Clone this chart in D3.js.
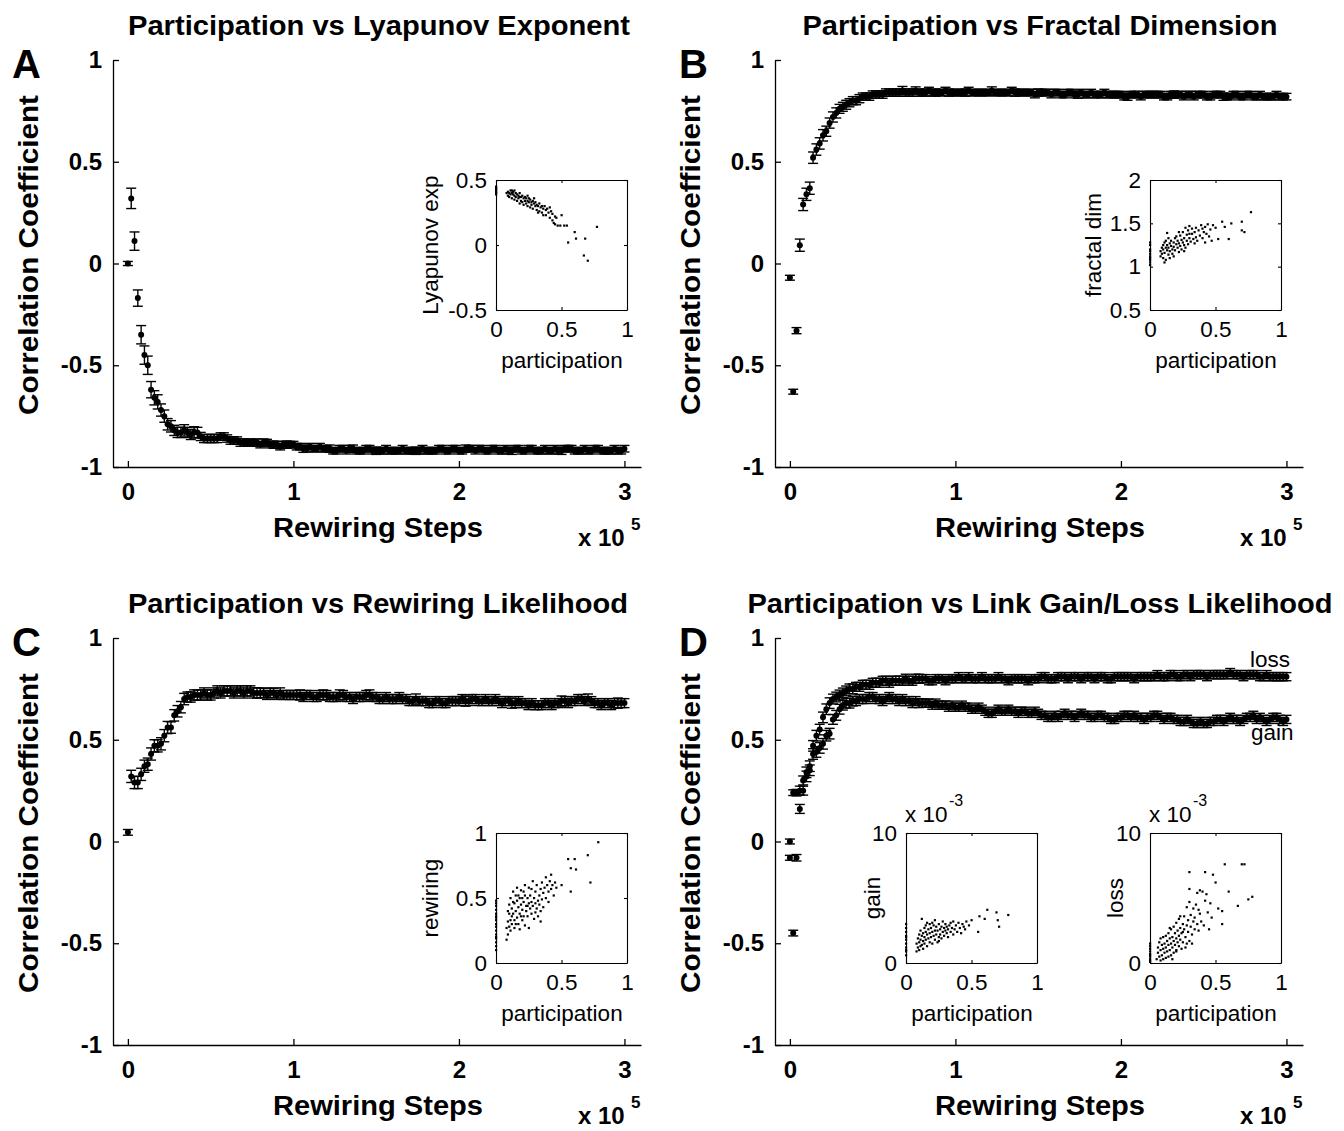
<!DOCTYPE html>
<html><head><meta charset="utf-8">
<script src="https://cdn.jsdelivr.net/npm/d3@7"></script>
<style>
body{margin:0;background:#fff}
text{font-family:"Liberation Sans",Arial,Helvetica,sans-serif;fill:#000}
</style>
</head><body>
<svg id="c" width="1344" height="1131"></svg>
<script>
// ---------- DATA ----------
// rewiring steps (in thousands)
const steps = [0,2,4,6,8,10,12,14,16,18,20,22,24,26,28,30,32,34,36,38,
40,42,44,46,48,50,52,54,56,58,60,62,64,66,68,70,72,74,76,78,
80,82,84,86,88,90,92,94,96,98,100,102,104,106,108,110,112,114,116,118,
120,122,124,126,128,130,132,134,136,138,140,142,144,146,148,150,152,154,156,158,
160,162,164,166,168,170,172,174,176,178,180,182,184,186,188,190,192,194,196,198,
200,202,204,206,208,210,212,214,216,218,220,222,224,226,228,230,232,234,236,238,
240,242,244,246,248,250,252,254,256,258,260,262,264,266,268,270,272,274,276,278,
280,282,284,286,288,290,292,294,296,298,300];

const mainYTicks = [-1,-0.5,0,0.5,1];
const mainXTicks = [0,1,2,3];

// A: Participation vs Lyapunov Exponent
const lyapCorr = [0.00,0.32,0.11,-0.17,-0.35,-0.45,-0.50,-0.62,-0.66,-0.68,
-0.72,-0.75,-0.79,-0.80,-0.82,-0.83,-0.83,-0.82,-0.83,-0.84,
-0.83,-0.83,-0.85,-0.86,-0.86,-0.86,-0.86,-0.86,-0.85,-0.85,
-0.86,-0.87,-0.87,-0.87,-0.88,-0.88,-0.88,-0.88,-0.88,-0.88,
-0.89,-0.88,-0.88,-0.89,-0.89,-0.89,-0.90,-0.89,-0.89,-0.89,
-0.89,-0.90,-0.90,-0.91,-0.91,-0.90,-0.91,-0.91,-0.90,-0.91,
-0.91,-0.91,-0.92,-0.92,-0.91,-0.91,-0.92,-0.91,-0.91,-0.92,
-0.92,-0.92,-0.91,-0.91,-0.92,-0.92,-0.92,-0.92,-0.91,-0.92,
-0.92,-0.92,-0.92,-0.91,-0.92,-0.92,-0.92,-0.92,-0.92,-0.91,
-0.92,-0.92,-0.92,-0.92,-0.91,-0.91,-0.92,-0.92,-0.91,-0.91,
-0.92,-0.92,-0.91,-0.91,-0.91,-0.92,-0.91,-0.91,-0.92,-0.92,
-0.91,-0.91,-0.92,-0.92,-0.91,-0.92,-0.92,-0.91,-0.91,-0.92,
-0.92,-0.91,-0.91,-0.92,-0.92,-0.92,-0.91,-0.92,-0.92,-0.91,
-0.92,-0.92,-0.91,-0.91,-0.91,-0.92,-0.92,-0.92,-0.91,-0.92,
-0.92,-0.91,-0.91,-0.92,-0.92,-0.92,-0.92,-0.91,-0.92,-0.92,-0.91];
const lyapErr = [.01,.05,.045,.04,.045,.045,.045,.04,.035,.035,
.03,.03,.028,.028,.025,.025,.025,.028,.025,.025,
.028,.025,.02,.02,.02,.02,.02,.02,.018,.018,
.018,.018,.018,.018,.018,.018,.016,.018,.016,.018,
.016,.018,.016,.016,.018,.016,.016,.016,.018,.016,
.016,.016,.016,.018,.016,.016,.016,.016,.016,.016,
.016,.018,.016,.016,.016,.016,.016,.016,.018,.016,
.016,.016,.016,.016,.016,.018,.016,.016,.016,.016,
.016,.016,.016,.016,.016,.016,.016,.018,.016,.016,
.016,.016,.016,.016,.016,.016,.016,.016,.016,.016,
.016,.016,.018,.016,.016,.016,.016,.016,.016,.016,
.016,.016,.016,.016,.016,.016,.018,.016,.016,.016,
.016,.016,.016,.016,.016,.016,.016,.016,.016,.016,
.016,.018,.016,.016,.016,.016,.016,.016,.016,.016,
.016,.016,.016,.016,.016,.016,.016,.016,.016,.016,.016];

// B: Participation vs Fractal Dimension
const fracCorr = [-0.07,-0.63,-0.33,0.09,0.29,0.34,0.37,0.52,0.56,0.59,
0.63,0.65,0.69,0.72,0.74,0.76,0.77,0.78,0.79,0.80,
0.80,0.81,0.82,0.82,0.82,0.83,0.83,0.83,0.83,0.84,
0.84,0.84,0.84,0.84,0.85,0.84,0.84,0.84,0.85,0.84,
0.84,0.84,0.85,0.84,0.84,0.84,0.84,0.85,0.84,0.84,
0.84,0.84,0.84,0.84,0.85,0.84,0.84,0.84,0.84,0.84,
0.84,0.85,0.84,0.84,0.84,0.84,0.84,0.85,0.84,0.84,
0.84,0.84,0.84,0.84,0.83,0.84,0.84,0.84,0.84,0.83,
0.84,0.84,0.83,0.83,0.84,0.84,0.83,0.83,0.84,0.83,
0.83,0.84,0.83,0.83,0.83,0.84,0.83,0.83,0.83,0.83,
0.83,0.82,0.82,0.83,0.83,0.83,0.82,0.83,0.83,0.83,
0.83,0.83,0.83,0.82,0.82,0.83,0.83,0.83,0.83,0.82,
0.83,0.83,0.82,0.83,0.83,0.83,0.82,0.82,0.83,0.83,
0.83,0.82,0.82,0.82,0.83,0.83,0.82,0.82,0.83,0.83,
0.82,0.82,0.83,0.82,0.82,0.82,0.82,0.83,0.82,0.82,0.82];
const fracErr = [.012,.012,.015,.03,.03,.03,.03,.028,.028,.028,
.028,.025,.025,.025,.025,.022,.022,.022,.02,.02,
.02,.02,.018,.018,.018,.018,.018,.018,.018,.018,
.018,.018,.018,.018,.02,.018,.018,.018,.018,.018,
.016,.018,.016,.016,.018,.016,.016,.016,.018,.016,
.016,.016,.016,.018,.016,.016,.016,.016,.016,.016,
.016,.018,.016,.016,.016,.016,.016,.016,.018,.016,
.016,.016,.016,.016,.016,.018,.016,.016,.016,.016,
.016,.016,.016,.016,.016,.016,.016,.018,.016,.016,
.016,.016,.016,.016,.016,.016,.016,.016,.016,.016,
.016,.016,.018,.016,.016,.016,.016,.016,.016,.016,
.016,.016,.016,.016,.016,.016,.018,.016,.016,.016,
.016,.016,.016,.016,.016,.016,.016,.016,.016,.016,
.016,.018,.016,.016,.016,.016,.016,.016,.016,.016,
.016,.016,.016,.016,.016,.016,.016,.016,.016,.016,.016];

// C: Participation vs Rewiring Likelihood
const rewCorr = [0.045,0.32,0.29,0.29,0.33,0.37,0.38,0.43,0.47,0.47,
0.48,0.52,0.56,0.56,0.62,0.64,0.66,0.70,0.71,0.71,
0.72,0.72,0.72,0.73,0.72,0.72,0.73,0.74,0.73,0.74,
0.74,0.74,0.73,0.74,0.74,0.73,0.74,0.74,0.73,0.73,
0.73,0.73,0.72,0.73,0.73,0.72,0.73,0.72,0.72,0.72,
0.72,0.72,0.72,0.71,0.72,0.72,0.71,0.71,0.72,0.72,
0.72,0.71,0.71,0.71,0.72,0.72,0.71,0.71,0.70,0.71,
0.71,0.71,0.72,0.72,0.71,0.71,0.70,0.70,0.71,0.70,
0.70,0.70,0.71,0.70,0.70,0.69,0.69,0.70,0.69,0.69,
0.69,0.68,0.68,0.69,0.69,0.68,0.68,0.69,0.69,0.69,
0.69,0.70,0.69,0.69,0.70,0.70,0.69,0.69,0.70,0.69,
0.69,0.70,0.69,0.68,0.69,0.69,0.68,0.68,0.69,0.68,
0.68,0.67,0.68,0.67,0.67,0.67,0.68,0.68,0.67,0.68,
0.68,0.69,0.69,0.68,0.69,0.69,0.70,0.70,0.69,0.70,
0.69,0.68,0.68,0.67,0.68,0.68,0.67,0.68,0.68,0.68,0.68];
const rewErr = [.014,.03,.03,.03,.03,.03,.03,.03,.03,.03,
.03,.03,.03,.028,.028,.028,.028,.028,.025,.025,
.025,.025,.025,.025,.025,.025,.025,.025,.025,.025,
.025,.025,.025,.025,.025,.025,.025,.025,.025,.025,
.025,.022,.022,.025,.022,.022,.025,.022,.022,.022,
.022,.022,.025,.022,.022,.022,.022,.022,.022,.025,
.022,.022,.022,.022,.025,.022,.022,.022,.022,.022,
.022,.022,.022,.025,.022,.022,.022,.022,.022,.022,
.022,.022,.022,.022,.022,.022,.022,.025,.022,.022,
.022,.022,.022,.022,.022,.022,.022,.022,.022,.022,
.022,.022,.025,.022,.022,.022,.022,.022,.022,.022,
.022,.022,.022,.022,.022,.022,.025,.022,.022,.022,
.022,.022,.022,.022,.022,.022,.022,.022,.022,.022,
.022,.025,.022,.022,.022,.022,.022,.022,.022,.025,
.022,.022,.022,.022,.022,.022,.022,.022,.025,.022,.022];

// D: Participation vs Link Gain/Loss Likelihood
const lossCorr = [0.00,0.24,0.24,0.25,0.30,0.34,0.37,0.47,0.52,0.55,
0.61,0.65,0.68,0.70,0.71,0.72,0.73,0.74,0.75,0.75,
0.76,0.76,0.77,0.77,0.77,0.78,0.78,0.78,0.79,0.79,
0.78,0.79,0.79,0.79,0.79,0.80,0.79,0.79,0.80,0.80,
0.80,0.80,0.79,0.79,0.80,0.80,0.80,0.79,0.80,0.80,
0.80,0.81,0.80,0.80,0.81,0.80,0.80,0.80,0.81,0.80,
0.80,0.80,0.80,0.81,0.80,0.80,0.79,0.80,0.80,0.80,
0.80,0.80,0.79,0.80,0.80,0.80,0.81,0.81,0.80,0.80,
0.80,0.81,0.81,0.81,0.80,0.81,0.81,0.81,0.80,0.81,
0.81,0.81,0.80,0.81,0.81,0.81,0.80,0.80,0.81,0.81,
0.81,0.81,0.81,0.81,0.80,0.81,0.81,0.81,0.81,0.81,
0.81,0.82,0.81,0.81,0.81,0.82,0.82,0.81,0.81,0.82,
0.82,0.81,0.82,0.82,0.82,0.82,0.81,0.82,0.82,0.82,
0.82,0.82,0.82,0.83,0.82,0.82,0.82,0.81,0.82,0.82,
0.82,0.82,0.81,0.81,0.82,0.81,0.81,0.81,0.81,0.81,0.81];
const gainCorr = [-0.08,-0.45,-0.08,0.16,0.25,0.32,0.35,0.43,0.44,0.46,
0.48,0.52,0.53,0.60,0.62,0.65,0.67,0.68,0.68,0.69,
0.69,0.70,0.70,0.70,0.71,0.71,0.70,0.70,0.69,0.70,
0.71,0.70,0.70,0.69,0.70,0.69,0.69,0.68,0.69,0.68,
0.68,0.68,0.68,0.67,0.68,0.67,0.67,0.67,0.66,0.67,
0.66,0.66,0.67,0.66,0.66,0.65,0.65,0.66,0.65,0.64,
0.63,0.63,0.64,0.65,0.64,0.64,0.65,0.64,0.64,0.63,
0.64,0.64,0.63,0.63,0.64,0.63,0.62,0.62,0.61,0.61,
0.62,0.61,0.62,0.63,0.62,0.62,0.61,0.62,0.63,0.62,
0.62,0.61,0.61,0.62,0.62,0.61,0.61,0.60,0.60,0.61,
0.61,0.62,0.62,0.61,0.62,0.61,0.61,0.60,0.61,0.61,
0.62,0.62,0.61,0.60,0.61,0.61,0.60,0.60,0.59,0.59,
0.60,0.59,0.58,0.58,0.59,0.58,0.58,0.59,0.59,0.60,
0.60,0.59,0.60,0.61,0.60,0.60,0.59,0.60,0.61,0.61,
0.62,0.60,0.61,0.60,0.59,0.60,0.61,0.61,0.60,0.59,0.60];
const dErr = [.012,.014,.016,.022,.022,.026,.026,.026,.026,.026,
.026,.026,.026,.024,.024,.024,.024,.024,.024,.024,
.022,.022,.022,.022,.022,.022,.022,.022,.022,.022,
.022,.022,.022,.022,.022,.022,.022,.022,.022,.022,
.02,.02,.02,.02,.02,.02,.02,.02,.02,.02,
.02,.02,.02,.02,.02,.02,.02,.02,.02,.02,
.02,.02,.02,.02,.02,.02,.02,.02,.02,.02,
.02,.02,.02,.02,.02,.02,.02,.02,.02,.02,
.02,.02,.02,.02,.02,.02,.02,.02,.02,.02,
.02,.02,.02,.02,.02,.02,.02,.02,.02,.02,
.02,.02,.02,.02,.02,.02,.02,.02,.02,.02,
.02,.02,.02,.02,.02,.02,.02,.02,.02,.02,
.02,.02,.02,.02,.02,.02,.02,.02,.02,.02,
.02,.02,.02,.02,.02,.02,.02,.02,.02,.02,
.02,.02,.02,.02,.02,.02,.02,.02,.02,.02,.02];

// Inset scatter data [participation, value]
const lyapScatter = [[0,0.45],[0,0.43],[0,0.42],[0,0.41],[0,0.40],[0,0.44],[0,0.39],
[0.08,0.40],[0.09,0.41],[0.09,0.38],[0.10,0.40],[0.10,0.37],[0.11,0.42],[0.11,0.39],[0.12,0.40],[0.12,0.36],[0.13,0.39],
[0.13,0.41],[0.14,0.38],[0.14,0.35],[0.15,0.40],[0.15,0.37],[0.16,0.39],[0.16,0.34],[0.17,0.38],[0.17,0.36],[0.18,0.37],
[0.18,0.40],[0.19,0.34],[0.19,0.37],[0.20,0.38],[0.20,0.33],[0.21,0.36],[0.21,0.31],[0.22,0.37],[0.22,0.34],[0.23,0.32],
[0.23,0.36],[0.24,0.34],[0.24,0.30],[0.25,0.36],[0.25,0.33],[0.26,0.35],[0.26,0.29],[0.27,0.33],[0.27,0.31],[0.28,0.34],
[0.28,0.28],[0.29,0.32],[0.30,0.30],[0.30,0.33],[0.31,0.27],[0.31,0.31],[0.32,0.30],[0.33,0.26],[0.33,0.32],[0.34,0.29],
[0.35,0.30],[0.35,0.25],[0.36,0.28],[0.37,0.30],[0.38,0.27],[0.38,0.23],[0.39,0.28],[0.40,0.25],[0.41,0.29],[0.41,0.21],
[0.42,0.26],[0.43,0.19],[0.43,0.24],[0.44,0.17],[0.45,0.22],[0.45,0.16],[0.46,0.21],[0.47,0.15],[0.49,0.15],[0.50,0.23],
[0.52,0.15],[0.54,0.15],[0.12,0.42],[0.18,0.32],[0.24,0.38],[0.14,0.42],[0.29,0.36],[0.36,0.23],[0.32,0.25],
[0.55,0.02],[0.60,0.10],[0.61,0.05],[0.68,0.05],[0.67,-0.08],[0.70,-0.12],[0.77,0.14]];

const fracScatter = [[0,1.02],[0,1.05],[0,1.08],[0,1.10],[0,1.12],[0,1.15],[0,1.18],[0,1.20],[0,1.25],[0,1.28],
[0.08,1.12],[0.08,1.18],[0.09,1.22],[0.09,1.15],[0.10,1.10],[0.10,1.20],[0.10,1.25],[0.11,1.16],[0.11,1.28],[0.12,1.22],
[0.12,1.08],[0.12,1.30],[0.13,1.19],[0.13,1.25],[0.13,1.39],[0.14,1.14],[0.14,1.22],[0.15,1.27],[0.15,1.18],[0.16,1.24],
[0.16,1.30],[0.17,1.20],[0.17,1.15],[0.18,1.28],[0.18,1.23],[0.19,1.33],[0.19,1.19],[0.20,1.26],[0.20,1.35],[0.21,1.22],
[0.21,1.30],[0.22,1.17],[0.22,1.27],[0.23,1.36],[0.23,1.24],[0.24,1.31],[0.24,1.20],[0.25,1.28],[0.25,1.40],[0.26,1.25],
[0.26,1.33],[0.27,1.22],[0.27,1.45],[0.28,1.30],[0.28,1.37],[0.29,1.26],[0.29,1.42],[0.30,1.33],[0.30,1.47],[0.31,1.29],
[0.32,1.38],[0.32,1.44],[0.33,1.32],[0.34,1.40],[0.35,1.45],[0.35,1.34],[0.36,1.30],[0.37,1.42],[0.38,1.36],[0.39,1.48],
[0.40,1.44],[0.40,1.33],[0.41,1.40],[0.42,1.46],[0.42,1.28],[0.43,1.38],[0.44,1.49],[0.45,1.35],[0.46,1.43],[0.47,1.30],
[0.15,1.10],[0.18,1.12],[0.22,1.40],[0.26,1.18],[0.11,1.05],[0.14,1.33],[0.34,1.27],[0.30,1.38],
[0.50,1.45],[0.52,1.32],[0.55,1.52],[0.57,1.46],[0.60,1.32],[0.62,1.50],[0.70,1.52],[0.70,1.42],[0.72,1.40],[0.77,1.63],[0.48,1.48]];

const rewScatter = [[0,0.10],[0,0.13],[0,0.16],[0,0.19],[0,0.22],[0,0.25],[0,0.28],[0,0.30],[0,0.33],[0,0.36],[0,0.38],
[0,0.41],[0,0.44],[0,0.46],[0,0.48],[0,0.20],[0,0.35],
[0.08,0.18],[0.08,0.27],[0.09,0.32],[0.09,0.22],[0.10,0.38],[0.10,0.28],[0.10,0.45],[0.11,0.33],[0.11,0.25],[0.11,0.50],
[0.12,0.36],[0.12,0.42],[0.12,0.30],[0.13,0.55],[0.13,0.38],[0.14,0.46],[0.14,0.33],[0.14,0.27],[0.15,0.40],[0.15,0.52],
[0.16,0.35],[0.16,0.48],[0.16,0.58],[0.17,0.43],[0.17,0.30],[0.18,0.50],[0.18,0.38],[0.18,0.26],[0.19,0.45],[0.19,0.56],
[0.20,0.41],[0.20,0.33],[0.20,0.50],[0.21,0.47],[0.21,0.36],[0.22,0.52],[0.22,0.29],[0.22,0.60],[0.23,0.44],[0.23,0.40],
[0.24,0.50],[0.24,0.36],[0.25,0.46],[0.25,0.58],[0.25,0.27],[0.26,0.42],[0.26,0.52],[0.27,0.47],[0.27,0.38],[0.28,0.63],
[0.28,0.44],[0.29,0.50],[0.29,0.34],[0.30,0.46],[0.30,0.55],[0.31,0.42],[0.31,0.60],[0.32,0.48],[0.32,0.36],[0.33,0.52],
[0.33,0.45],[0.34,0.40],[0.34,0.57],[0.35,0.49],[0.35,0.62],[0.36,0.54],[0.36,0.43],[0.37,0.58],[0.38,0.50],[0.38,0.66],
[0.39,0.60],[0.40,0.55],[0.40,0.47],[0.41,0.63],[0.42,0.57],[0.42,0.68],[0.43,0.60],[0.44,0.52],[0.45,0.62],[0.46,0.58],
[0.13,0.47],[0.19,0.36],[0.24,0.44],[0.30,0.39],[0.17,0.52],[0.21,0.55],[0.27,0.57],[0.09,0.40],[0.15,0.30],[0.34,0.32],
[0.50,0.60],[0.55,0.80],[0.57,0.73],[0.60,0.80],[0.61,0.72],[0.57,0.55],[0.70,0.83],[0.72,0.62],[0.78,0.93]];

// gain / loss in units of 1e-3
const gainScatter = [[0,0.6],[0,0.9],[0,1.2],[0,1.5],[0,1.8],[0,2.1],[0,2.4],[0,2.7],[0,3.0],[0,1.0],[0,2.0],
[0.08,0.9],[0.08,1.5],[0.09,1.2],[0.09,1.9],[0.10,1.6],[0.10,2.2],[0.10,1.0],[0.11,1.8],[0.11,2.5],[0.12,1.4],
[0.12,2.1],[0.12,3.4],[0.13,1.7],[0.13,2.3],[0.14,1.5],[0.14,2.0],[0.14,2.7],[0.15,1.8],[0.15,2.4],[0.16,1.3],
[0.16,2.2],[0.16,3.1],[0.17,1.9],[0.17,2.6],[0.18,1.6],[0.18,2.3],[0.18,3.0],[0.19,2.0],[0.19,2.7],[0.20,1.5],
[0.20,2.4],[0.21,2.1],[0.21,2.9],[0.22,1.8],[0.22,2.5],[0.22,3.3],[0.23,2.2],[0.23,2.8],[0.24,1.6],[0.24,2.5],
[0.25,2.0],[0.25,3.0],[0.26,2.6],[0.26,2.2],[0.27,2.8],[0.27,1.9],[0.28,2.4],[0.28,3.2],[0.29,2.7],[0.29,2.1],
[0.30,2.5],[0.30,3.0],[0.31,2.3],[0.31,2.8],[0.32,2.6],[0.32,2.0],[0.33,2.9],[0.34,2.4],[0.34,3.1],[0.35,2.7],
[0.36,2.2],[0.36,3.2],[0.37,2.6],[0.38,2.9],[0.39,2.4],[0.40,3.1],[0.41,2.7],[0.42,2.3],[0.43,3.0],[0.44,2.8],
[0.45,2.6],[0.46,3.2],[0.48,2.9],[0.50,3.3],[0.13,1.1],[0.15,2.9],[0.20,3.1],[0.25,1.7],[0.11,1.3],
[0.55,2.4],[0.56,3.6],[0.60,3.4],[0.62,4.1],[0.69,3.9],[0.70,3.3],[0.71,2.8],[0.78,3.7]];

const lossScatter = [[0,0.1],[0,0.3],[0,0.5],[0,0.7],[0,0.9],[0,1.1],[0,1.3],[0,1.5],[0,0.2],[0,0.6],
[0.05,0.3],[0.06,0.8],[0.06,1.2],[0.07,0.5],[0.07,1.6],[0.08,0.2],[0.08,1.0],[0.08,1.9],[0.09,0.6],[0.09,1.4],
[0.10,0.3],[0.10,1.1],[0.10,2.0],[0.11,0.8],[0.11,1.5],[0.12,0.4],[0.12,1.2],[0.12,2.1],[0.13,0.9],[0.13,1.7],
[0.14,0.5],[0.14,1.4],[0.14,2.3],[0.15,1.0],[0.15,1.9],[0.16,0.6],[0.16,1.5],[0.16,2.6],[0.17,1.2],[0.17,2.0],
[0.18,0.8],[0.18,1.7],[0.18,2.8],[0.19,1.4],[0.19,2.3],[0.20,1.0],[0.20,1.9],[0.20,3.1],[0.21,1.6],[0.21,2.5],
[0.22,1.3],[0.22,2.1],[0.22,3.4],[0.23,1.8],[0.23,2.7],[0.24,1.1],[0.24,2.3],[0.25,3.0],[0.25,1.6],[0.26,2.6],
[0.26,3.6],[0.27,2.0],[0.27,1.2],[0.28,2.9],[0.28,4.3],[0.29,2.4],[0.29,3.3],[0.30,1.7],[0.30,4.7],[0.31,2.8],
[0.31,3.7],[0.32,2.2],[0.33,3.2],[0.33,4.2],[0.34,2.6],[0.34,3.5],[0.35,4.5],[0.36,3.0],[0.36,5.4],[0.37,2.5],
[0.38,3.8],[0.38,5.6],[0.39,3.2],[0.40,5.5],[0.41,2.9],[0.42,4.8],[0.43,5.3],[0.44,3.9],[0.45,2.6],[0.46,4.6],
[0.17,0.3],[0.20,0.9],[0.25,2.4],[0.32,1.5],[0.15,2.7],[0.23,3.6],[0.28,1.5],[0.47,3.5],
[0.30,5.7],[0.30,7.0],[0.42,7.0],[0.48,6.8],[0.50,6.2],[0.52,4.2],[0.55,4.0],[0.55,3.0],[0.60,5.5],[0.67,4.4],
[0.70,7.6],[0.72,7.6],[0.75,4.9],[0.78,5.1],[0.57,7.6],[0.37,4.1]];

// ---------- DRAWING ----------
const svg = d3.select("#c");
const fmt = d => String(d);
const FONT = '"Liberation Sans",Arial,Helvetica,sans-serif';

function styleAxis(sel, size, bold){
  sel.attr("font-family", FONT);
  sel.selectAll("path,line").attr("stroke","#000").attr("stroke-width",1.3);
  sel.selectAll("text").style("font-size", size+"px").style("font-weight", bold?"bold":"normal").attr("fill","#000");
}

function txt(x,y,s,size,opts){
  opts = opts||{};
  const t = svg.append("text").attr("x",x).attr("y",y).text(s)
    .style("font-size",size+"px").style("font-weight",opts.bold?"bold":"normal")
    .attr("text-anchor",opts.anchor||"start");
  if(opts.len){ t.attr("textLength",opts.len).attr("lengthAdjust","spacingAndGlyphs"); }
  if(opts.rot){ t.attr("transform",`rotate(-90 ${x} ${y})`); }
  return t;
}

function mainPanel(o){
  const x = d3.scaleLinear().domain([-0.09,3.1]).range([o.left, o.left+528]);
  const y = d3.scaleLinear().domain([-1,1]).range([o.bottom, o.bottom-407]);
  const g = svg.append("g");
  const ya = g.append("g").attr("transform",`translate(${o.left},0)`)
    .call(d3.axisLeft(y).tickValues(mainYTicks).tickFormat(fmt).tickSizeInner(-6).tickSizeOuter(0).tickPadding(11));
  styleAxis(ya,24,true);
  const xa = g.append("g").attr("transform",`translate(0,${o.bottom})`)
    .call(d3.axisBottom(x).tickValues(mainXTicks).tickFormat(fmt).tickSizeInner(-6).tickSizeOuter(0).tickPadding(16));
  styleAxis(xa,24,true);

  o.series.forEach(s=>{
    const pts = steps.map((st,i)=>({x:x(st/100), v:s.vals[i], e:s.errs[i]}));
    const eg = g.append("g").attr("stroke","#000").attr("stroke-width",1.4);
    pts.forEach(p=>{
      const y1 = y(p.v - p.e), y2 = y(p.v + p.e);
      eg.append("line").attr("x1",p.x).attr("x2",p.x).attr("y1",y1).attr("y2",y2);
      eg.append("line").attr("x1",p.x-5).attr("x2",p.x+5).attr("y1",y1).attr("y2",y1);
      eg.append("line").attr("x1",p.x-5).attr("x2",p.x+5).attr("y1",y2).attr("y2",y2);
    });
    g.append("g").selectAll("circle").data(pts).join("circle")
      .attr("cx",d=>d.x).attr("cy",d=>y(d.v)).attr("r",3).attr("fill","#000");
  });

  // title, letter, labels
  txt(o.titleX, o.bottom-432, o.title, 28, {bold:true, anchor:"middle", len:o.titleLen});
  txt(o.letterX, o.bottom-389, o.letter, 40, {bold:true});
  txt(o.left-75, o.bottom-212, "Correlation Coefficient", 27, {bold:true, anchor:"middle", rot:true, len:320});
  txt(o.left+265, o.bottom+70, "Rewiring Steps", 27, {bold:true, anchor:"middle", len:210});
  txt(o.left+465, o.bottom+79, "x 10", 24, {bold:true});
  txt(o.left+518, o.bottom+63, "5", 17, {bold:true});
  return {x,y};
}

function inset(o){
  const x = d3.scaleLinear().domain([0,1]).range([o.x0, o.x0+131]);
  const y = d3.scaleLinear().domain(o.yDomain).range([o.y0+130, o.y0]);
  const g = svg.append("g");
  const xt = [0,0.5,1];
  const b = g.append("g").attr("transform",`translate(0,${o.y0+130})`)
    .call(d3.axisBottom(x).tickValues(xt).tickFormat(fmt).tickSizeInner(-3).tickSizeOuter(0).tickPadding(11));
  const t = g.append("g").attr("transform",`translate(0,${o.y0})`)
    .call(d3.axisTop(x).tickValues(xt).tickFormat("").tickSizeInner(-3).tickSizeOuter(0));
  const l = g.append("g").attr("transform",`translate(${o.x0},0)`)
    .call(d3.axisLeft(y).tickValues(o.yTicks).tickFormat(o.yFmt||fmt).tickSizeInner(-3).tickSizeOuter(0).tickPadding(9));
  const r = g.append("g").attr("transform",`translate(${o.x0+131},0)`)
    .call(d3.axisRight(y).tickValues(o.yTicks).tickFormat("").tickSizeInner(-3).tickSizeOuter(0));
  [b,t,l,r].forEach(a=>{styleAxis(a,22.5,false); a.selectAll("path,line").attr("stroke-width",1.1);});
  g.append("g").selectAll("rect").data(o.data).join("rect")
    .attr("x",d=>x(d[0])-1).attr("y",d=>y(d[1])-1).attr("width",2.2).attr("height",2.2).attr("fill","#000");
  txt(o.x0+66, o.y0+188, "participation", 22.5, {anchor:"middle"});
  const yl = txt(o.ylabX, o.y0+65, o.ylab, 22.5, {anchor:"middle", rot:true});
  yl.attr("dominant-baseline","central");
  if(o.exp){
    txt(o.x0-1, o.y0-11, "x 10", 22.5);
    txt(o.x0+43, o.y0-27, "-3", 16);
  }
}

// Panel A
mainPanel({left:113, bottom:467, title:"Participation vs Lyapunov Exponent", titleX:379, titleLen:502, letter:"A", letterX:12,
  series:[{vals:lyapCorr, errs:lyapErr}]});
inset({x0:496, y0:180, yDomain:[-0.5,0.5], yTicks:[-0.5,0,0.5], data:lyapScatter, ylab:"Lyapunov exp", ylabX:430});

// Panel B
mainPanel({left:775, bottom:467, title:"Participation vs Fractal Dimension", titleX:1040, titleLen:475, letter:"B", letterX:679,
  series:[{vals:fracCorr, errs:fracErr}]});
inset({x0:1150, y0:180, yDomain:[0.5,2], yTicks:[0.5,1,1.5,2], data:fracScatter, ylab:"fractal dim", ylabX:1093});

// Panel C
mainPanel({left:113, bottom:1045, title:"Participation vs Rewiring Likelihood", titleX:378, titleLen:500, letter:"C", letterX:12,
  series:[{vals:rewCorr, errs:rewErr}]});
inset({x0:496, y0:833, yDomain:[0,1], yTicks:[0,0.5,1], data:rewScatter, ylab:"rewiring", ylabX:430});

// Panel D
mainPanel({left:775, bottom:1045, title:"Participation vs Link Gain/Loss Likelihood", titleX:1040, titleLen:585, letter:"D", letterX:679,
  series:[{vals:lossCorr, errs:dErr},{vals:gainCorr, errs:dErr}]});
inset({x0:906, y0:833, yDomain:[0,10], yTicks:[0,10], data:gainScatter, ylab:"gain", ylabX:872, exp:true});
inset({x0:1150, y0:833, yDomain:[0,10], yTicks:[0,10], data:lossScatter, ylab:"loss", ylabX:1115, exp:true});
txt(1250, 667, "loss", 22.5);
txt(1251, 740, "gain", 22.5);
</script>
</body></html>
